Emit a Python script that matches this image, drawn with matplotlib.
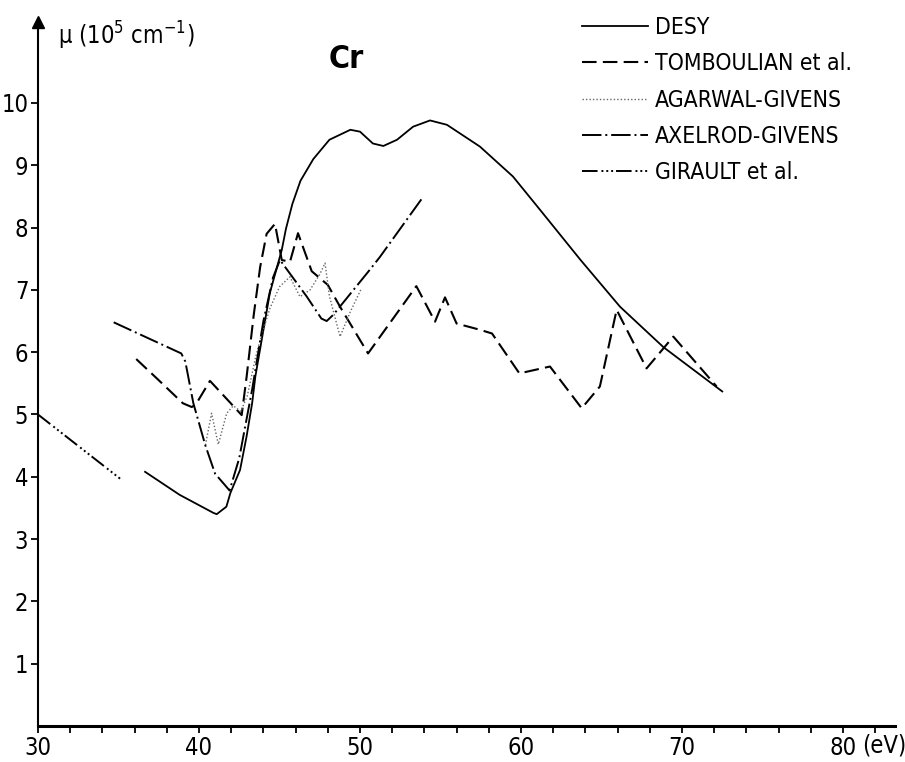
import matplotlib
matplotlib.use("Agg")
import matplotlib.pyplot as plt
from matplotlib.ticker import MultipleLocator

plt.rcParams['font.family'] = ['DejaVu Sans']
plt.rcParams['font.stretch'] = 'condensed'

# photon energy (eV) and absorption coefficient mu (10^5 cm^-1)
desy_e = [36.65, 38.8, 40.9, 41.1, 41.7, 41.95, 42.55, 42.95, 43.3, 43.5, 44.4, 44.85,
          45.14, 45.4, 45.8, 46.3, 47.1, 48.1, 49.4, 50.0, 50.8, 51.45, 52.3, 53.3,
          54.35, 55.4, 57.45, 59.5, 61.2, 63.7, 66.15, 68.85, 72.5]
desy_mu = [4.08, 3.71, 3.42, 3.40, 3.52, 3.74, 4.11, 4.64, 5.18, 5.61, 6.95, 7.37,
           7.64, 7.98, 8.38, 8.75, 9.10, 9.41, 9.57, 9.54, 9.35, 9.31, 9.41, 9.62,
           9.72, 9.65, 9.30, 8.82, 8.28, 7.48, 6.73, 6.08, 5.37]

tomb_e = [36.1, 37.5, 39.0, 39.55, 39.8, 40.68, 41.9, 42.65, 42.96, 43.4, 43.8, 44.2,
          44.72, 45.14, 45.65, 46.15, 47.0, 48.0, 48.76, 50.5, 53.5, 54.66, 55.28,
          56.0, 57.45, 58.2, 59.9, 61.8, 63.77, 64.9, 65.94, 67.8, 69.46, 72.15]
tomb_mu = [5.89, 5.55, 5.18, 5.12, 5.16, 5.54, 5.20, 4.99, 5.61, 6.60, 7.37, 7.90,
           8.06, 7.48, 7.45, 7.91, 7.30, 7.08, 6.73, 5.98, 7.06, 6.49, 6.88,
           6.46, 6.36, 6.30, 5.66, 5.77, 5.10, 5.45, 6.68, 5.74, 6.25, 5.45]

agar_e = [40.4, 40.78, 41.2, 41.72, 42.13, 42.6, 43.0, 43.5, 43.8, 44.4, 45.0, 45.65,
          46.27, 46.9, 47.5, 47.83, 48.1, 48.76, 49.4, 50.1]
agar_mu = [4.51, 5.02, 4.52, 5.02, 5.14, 5.05, 5.30, 5.90, 6.20, 6.70, 7.05, 7.21,
           6.89, 7.00, 7.25, 7.43, 6.90, 6.25, 6.65, 7.03]

axel_e = [34.7, 38.9, 39.15, 39.65, 40.4, 41.0, 41.9, 42.5, 43.3, 44.0, 44.6, 45.03,
          46.7, 47.6, 47.93, 48.34, 50.6, 51.24, 53.83]
axel_mu = [6.48, 5.98, 5.85, 5.18, 4.50, 4.05, 3.78, 4.30, 5.40, 6.50, 7.20, 7.48,
           6.89, 6.54, 6.50, 6.60, 7.32, 7.53, 8.46]

gir_e = [30.0, 35.1]
gir_mu = [5.0, 3.97]

labels = ['DESY', 'TOMBOULIAN et al.', 'AGARWAL-GIVENS', 'AXELROD-GIVENS', 'GIRAULT et al.']
x_ticks = [30, 40, 50, 60, 70, 80]
y_ticks = [1, 2, 3, 4, 5, 6, 7, 8, 9, 10]

fig = plt.figure(figsize=(9.05, 7.62), dpi=100)
ax = fig.add_axes([38 / 905, 36 / 762, 857 / 905, 704 / 762])

ax.plot(desy_e, desy_mu, color='black', lw=1.3, ls='-', label=labels[0])
ax.plot(tomb_e, tomb_mu, color='black', lw=1.5, ls=(0, (7, 3)), label=labels[1])
ax.plot(agar_e, agar_mu, color='#666666', lw=1.0, ls=(0, (1, 1.5)), label=labels[2])
ax.plot(axel_e, axel_mu, color='black', lw=1.4, ls=(0, (10, 2, 1, 2)), label=labels[3])
ax.plot(gir_e, gir_mu, color='black', lw=1.4, ls=(0, (8, 2, 1, 1.5, 1, 1.5, 1, 1.5)),
        label=labels[4])

ax.set_xlim(30, 30 + 857 / 16.1)
ax.set_ylim(0, 11.3)

for side in ['top', 'right']:
    ax.spines[side].set_visible(False)
ax.spines['left'].set_linewidth(1.5)
ax.spines['bottom'].set_linewidth(2.2)

ax.set_xticks(x_ticks)
ax.xaxis.set_minor_locator(MultipleLocator(2))
ax.set_yticks(y_ticks)
ax.tick_params(axis='both', which='both', direction='out', length=5, width=1.3,
               labelsize=17, pad=2)

# arrow head on top of the y axis
ax.plot([0], [1], marker='^', markersize=8, color='black', transform=ax.transAxes,
        clip_on=False)

ax.text(0.023, 0.98, 'μ (10$^5$ cm$^{-1}$)', transform=ax.transAxes, fontsize=17,
        va='center', ha='left')
ax.text(0.9615, -0.027, '(eV)', transform=ax.transAxes, fontsize=17, va='center',
        ha='left')
ax.text(0.36, 0.947, 'Cr', transform=ax.transAxes, fontsize=23, fontweight='bold',
        va='center', ha='center')

ax.legend(loc='upper left', bbox_to_anchor=(582 / 905, 1 - 16 / 762),
          bbox_transform=fig.transFigure, frameon=False, fontsize=16.5,
          handlelength=2.9, handletextpad=0.3, labelspacing=0.58, borderpad=0,
          borderaxespad=0)

fig.savefig('out.png', dpi=100)
